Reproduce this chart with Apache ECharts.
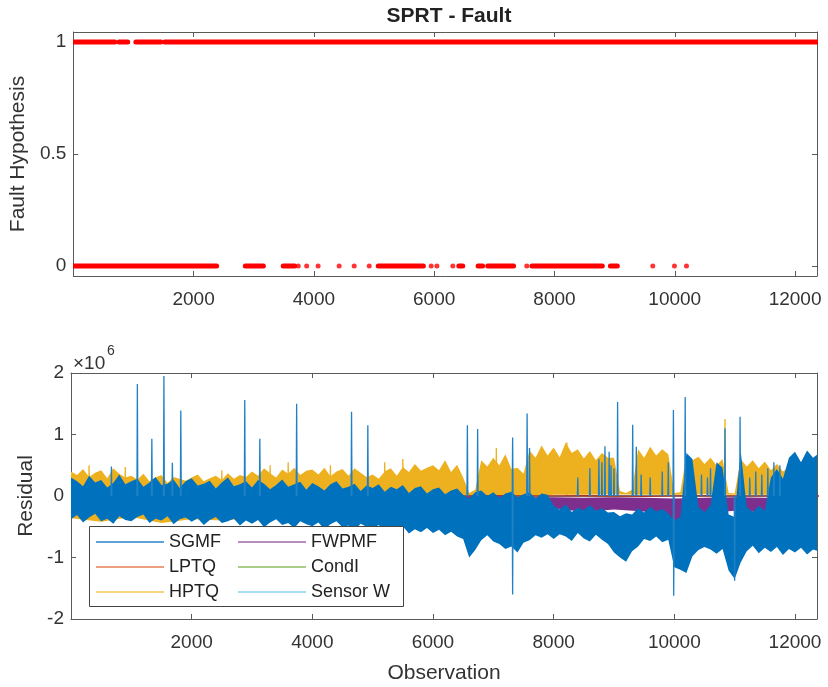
<!DOCTYPE html>
<html><head><meta charset="utf-8">
<script src="https://cdn.jsdelivr.net/npm/echarts@6/dist/echarts.min.js"></script>
<style>html,body{margin:0;padding:0;background:#fff}#c{width:828px;height:687px}</style>
</head><body><div id="c"></div><script>
// ---------------- DATA ----------------
var xTicks = [2000, 4000, 6000, 8000, 10000, 12000];
var faultTicks = [0, 0.5, 1];
var residTicks = [-2, -1, 0, 1, 2];
var nObs = 12365;

// SPRT fault hypothesis: contiguous runs of observations [start, end] and isolated observations
var faultOneRuns = [[0, 690], [760, 905], [1040, 1455], [1520, 12364]];
var faultZeroRuns = [[0, 2383], [2860, 3160], [3490, 3680], [5070, 5820], [6410, 6475], [6730, 6805], [6890, 7320], [7625, 8795], [8930, 9045]];
var faultZeroDots = [3740, 3880, 4070, 4420, 4670, 4920, 5950, 6045, 6310, 7540, 9635, 9995, 10195];

// Residual envelopes (x1e6), upper/lower edges of each noisy band
var envStep = 100;   // observations between envelope samples
var sgmfTop = [
 0.30,0.24,0.16,0.33,0.22,0.26,0.14,0.21,0.35,0.19,
 0.24,0.28,0.15,0.22,0.31,0.18,0.20,0.27,0.13,0.24,
 0.29,0.17,0.20,0.25,0.12,0.22,0.30,0.16,0.19,0.24,
 0.14,0.26,0.20,0.11,0.18,0.27,0.15,0.19,0.23,0.10,
 0.21,0.16,0.09,0.19,0.24,0.12,0.15,0.20,0.08,0.17,
 0.13,0.19,0.07,0.15,0.11,0.18,0.05,0.13,0.16,0.04,
 0.11,0.14,0.03,0.09,0.12,0.02,-0.04,0.06,0.09,0.00,
 0.06,-0.03,0.04,0.07,-0.02,0.03,0.06,-0.04,0.04,0.02,
 -0.16,-0.22,-0.14,-0.26,-0.19,-0.23,-0.15,-0.24,-0.20,-0.27,
 -0.26,-0.33,-0.28,-0.30,-0.20,-0.27,-0.18,-0.25,-0.21,-0.28,
 -0.40,-0.34,0.70,0.60,-0.18,-0.26,-0.15,0.55,0.46,-0.30,
 -0.34,0.74,-0.18,-0.26,-0.16,-0.24,0.30,0.44,0.28,0.62,
 0.72,0.55,0.74,0.62,0.70];
var sgmfBot = [
 -0.38,-0.31,-0.43,-0.35,-0.29,-0.41,-0.37,-0.45,-0.33,-0.39,
 -0.41,-0.34,-0.30,-0.44,-0.37,-0.40,-0.33,-0.46,-0.38,-0.35,
 -0.42,-0.36,-0.47,-0.39,-0.34,-0.44,-0.41,-0.37,-0.48,-0.40,
 -0.45,-0.39,-0.51,-0.43,-0.38,-0.47,-0.44,-0.52,-0.41,-0.46,
 -0.49,-0.43,-0.54,-0.46,-0.41,-0.51,-0.48,-0.56,-0.45,-0.50,
 -0.53,-0.47,-0.58,-0.50,-0.55,-0.49,-0.61,-0.54,-0.59,-0.52,
 -0.60,-0.55,-0.64,-0.58,-0.66,-0.70,-1.00,-0.88,-0.72,-0.64,
 -0.74,-0.78,-0.86,-0.82,-0.92,-0.76,-0.72,-0.64,-0.68,-0.62,
 -0.70,-0.62,-0.66,-0.73,-0.60,-0.69,-0.74,-0.63,-0.71,-0.78,
 -0.92,-1.00,-1.07,-0.90,-0.82,-0.70,-0.73,-0.66,-0.75,-0.71,
 -1.16,-1.20,-1.25,-0.98,-0.88,-0.83,-0.87,-0.94,-0.86,-1.21,
 -1.35,-1.08,-0.90,-0.81,-0.93,-0.84,-0.91,-0.83,-0.96,-0.86,
 -0.92,-0.84,-0.95,-0.87,-0.90];
var sgmfSpikes = [
 [670,0.48],[1100,1.82],[1340,0.93],[1540,1.95],[1680,0.54],[1820,1.39],[2880,1.56],[3130,0.93],
 [3740,1.50],[4650,1.37],[4920,1.15],[6570,1.15],[6740,1.09],[7320,0.95],[7560,1.34],[7600,0.78],
 [8850,0.81],[8920,0.72],[9060,1.53],[9310,1.16],[9370,0.80],[9985,1.40],[10180,1.61],[10840,1.10],[11090,1.29],
 [8400,0.30],[8600,0.45],[8750,0.60],[8800,0.55],[8950,0.50],[9000,0.45],[9450,0.35],[9600,0.30],
 [9800,0.40],[9900,0.55],[10450,0.35],[10550,0.30],[10600,0.45],[11250,0.30],[11350,0.40],
 [11450,0.35],[11550,0.45],[11650,0.55],[11750,0.50],
 [7320,-1.60],[9990,-1.62],[11000,-1.38]];
var hptqTop = [
 0.40,0.34,0.44,0.31,0.38,0.42,0.29,0.45,0.36,0.30,
 0.33,0.27,0.36,0.24,0.30,0.34,0.21,0.31,0.28,0.25,
 0.30,0.35,0.24,0.29,0.33,0.26,0.37,0.28,0.34,0.31,
 0.40,0.33,0.45,0.37,0.30,0.43,0.36,0.46,0.34,0.41,
 0.43,0.35,0.46,0.32,0.40,0.44,0.33,0.45,0.38,0.31,
 0.35,0.28,0.40,0.45,0.33,0.47,0.39,0.52,0.41,0.46,
 0.50,0.42,0.58,0.39,0.51,0.30,0.05,0.10,0.58,0.48,
 0.62,0.50,0.68,0.44,0.46,0.36,0.74,0.62,0.82,0.66,
 0.79,0.63,0.87,0.70,0.76,0.61,0.73,0.58,0.70,0.62,
 0.62,0.08,0.05,0.10,0.76,0.62,0.80,0.66,0.76,0.68,
 0.05,0.06,0.66,0.58,0.64,0.52,0.62,0.50,0.60,0.05,
 0.04,0.60,0.48,0.58,0.45,0.56,0.42,0.52,0.40,0.46,
 0.50,0.40,0.46,0.39,0.42];
var hptqSpikes = [[10840,1.25],[8220,0.87],[300,0.50],[900,0.47],[2500,0.42],[3300,0.50],[3600,0.55],[4300,0.50],[5200,0.55],[5500,0.60],[7050,0.78]];
var coarseStep = 500;
var hptqBot = [-0.36,-0.42,-0.34,-0.44,-0.38,-0.40,-0.36,-0.30,-0.28,-0.25,-0.22,-0.20,-0.15,-0.10,-0.05,-0.02,0.02,0.02,0.03,0.02,0.02,0.03,0.02,0.02,0.02,0.02];
var fwpmfTop = [0.04,0.05,0.03,0.05,0.04,0.05,0.06,0.08,0.06,0.04,0.03,0.02,0.00,-0.01,0.00,-0.02,-0.02,-0.03,-0.02,-0.03,-0.04,-0.03,-0.02,-0.03,-0.02,-0.02];
var fwpmfBot = [-0.12,-0.14,-0.12,-0.15,-0.13,-0.15,-0.16,-0.14,-0.16,-0.15,-0.18,-0.20,-0.20,-0.22,-0.18,-0.24,-0.20,-0.26,-0.22,-0.25,-0.50,-0.28,-0.24,-0.27,-0.22,-0.24];
var lptq = [0.01,-0.01,0.00,0.01,-0.01,0.00,0.01,0.00,-0.01,0.00,0.01,0.00,-0.01,0.00,0.005,0.00,0.00,0.005,0.00,-0.005,0.00,0.005,0.00,0.00,0.005,0.00];
var sparseStep = 1000;
var condI = [0.02,-0.02,0.01,-0.01,0.02,0.00,-0.02,0.01,0.00,-0.01,0.01,0.00,0.01];
var sensorW = [-0.02,0.01,-0.01,0.02,0.00,-0.02,0.01,0.00,-0.01,0.01,0.00,-0.01,0.00];

// ---------------- STYLE ----------------
var FF = '"Liberation Sans", Arial, Helvetica, sans-serif';
var AXC = '#5a5a5a', TXC = '#333333';
var C = {SGMF:'#0072BD', LPTQ:'#A8342A', HPTQ:'#EDB120', FWPMF:'#7E2F8E', CondI:'#77AC30', SensorW:'#4DBEEE'};
var LC = {SGMF:'#5EA2D6', LPTQ:'#EE9F82', HPTQ:'#F6D47C', FWPMF:'#B68DBE', CondI:'#A9CC86', SensorW:'#A7DCF4'};
function plain(v) { return String(v); }

function xAx(g, pos, labels, name) {
  return {type:'value', gridIndex:g, position:pos, min:0, max:nObs,
    name: name || '', nameLocation:'middle', nameGap:44,
    nameTextStyle:{fontSize:21, color:TXC, fontFamily:FF},
    axisLine:{show:true, onZero:false, lineStyle:{color:AXC, width:1}},
    axisTick:{show:true, inside:true, length:5, customValues:xTicks, lineStyle:{color:AXC}},
    axisLabel:{show:labels, customValues:xTicks, formatter:plain, color:TXC, fontSize:19, fontFamily:FF, margin:14},
    splitLine:{show:false}};
}
function yAx(g, pos, labels, min, max, ticks, name, gap) {
  return {type:'value', gridIndex:g, position:pos, min:min, max:max,
    name: name || '', nameLocation:'middle', nameGap:gap || 40, nameRotate:90,
    nameTextStyle:{fontSize:21, color:TXC, fontFamily:FF},
    axisLine:{show:true, onZero:false, lineStyle:{color:AXC, width:1}},
    axisTick:{show:true, inside:true, length:5, customValues:ticks, lineStyle:{color:AXC}},
    axisLabel:{show:labels, customValues:ticks, formatter:plain, color:TXC, fontSize:19, fontFamily:FF, margin:7},
    splitLine:{show:false}};
}
function band(name, color, top, topStep, bot, botStep, z) {
  return {type:'custom', name:name, xAxisIndex:2, yAxisIndex:2, z:z, clip:true, silent:true,
    itemStyle:{color:color}, data:[[0,0]],
    renderItem:function(params, api){
      var pts = [], i;
      for (i = 0; i < top.length; i++) pts.push(api.coord([i*topStep, top[i]]));
      for (i = bot.length-1; i >= 0; i--) pts.push(api.coord([i*botStep, bot[i]]));
      return {type:'polygon', shape:{points:pts}, style:{fill:color}};
    }};
}
function spikes(name, color, list, z) {
  return {type:'custom', name:name, xAxisIndex:2, yAxisIndex:2, z:z, clip:true, silent:true,
    itemStyle:{color:color}, data:list,
    renderItem:function(params, api){
      var o = api.value(0), v = api.value(1);
      var a = api.coord([o-7, 0]), b = api.coord([o, v]), c = api.coord([o+7, 0]);
      return {type:'polyline', shape:{points:[a,b,c]}, style:{stroke:color, fill:null, lineWidth:1.3}};
    }};
}
function lineS(name, color, vals, step, z, w) {
  return {type:'line', name:name, xAxisIndex:2, yAxisIndex:2, z:z, silent:true, showSymbol:false,
    data: vals.map(function(v,i){return [i*step, v];}),
    itemStyle:{color:color}, lineStyle:{color:color, width:w}};
}
function runs(list, y) {
  return {type:'custom', xAxisIndex:0, yAxisIndex:0, z:3, clip:true, silent:true,
    data: list.map(function(r){return [r[0], r[1], y];}),
    encode:{x:[0,1], y:2},
    renderItem:function(params, api){
      var a = api.coord([api.value(0), api.value(2)]), b = api.coord([api.value(1), api.value(2)]);
      return {type:'line', shape:{x1:a[0], y1:a[1], x2:b[0], y2:b[1]}, style:{stroke:'#FF0000', lineWidth:5, lineCap:'round'}};
    }};
}

var legendText = {fontSize:18, color:'#222', fontFamily:FF};
var option = {
  animation:false,
  backgroundColor:'#ffffff',
  title:{text:'SPRT - Fault', left:444, textAlign:'center', top:1,
    textStyle:{fontSize:21, fontWeight:'bold', color:'#222', fontFamily:FF}},
  grid:[
    {left:71, top:32, width:746, height:244},
    {left:71, top:373, width:746, height:246}
  ],
  xAxis:[xAx(0,'bottom',true), xAx(0,'top',false), xAx(1,'bottom',true,'Observation'), xAx(1,'top',false)],
  yAxis:[yAx(0,'left',true,-0.045,1.045,faultTicks,'Fault Hypothesis',39), yAx(0,'right',false,-0.045,1.045,faultTicks),
         yAx(1,'left',true,-2,2,residTicks,'Residual',31), yAx(1,'right',false,-2,2,residTicks)],
  legend:[
    {data:[{name:'SGMF',itemStyle:{color:LC.SGMF}},{name:'LPTQ',itemStyle:{color:LC.LPTQ}},{name:'HPTQ',itemStyle:{color:LC.HPTQ}}],
     orient:'vertical', left:96, top:533, padding:0, icon:'rect', itemWidth:68, itemHeight:2, itemGap:7, textStyle:legendText, selectedMode:false, z:10},
    {data:[{name:'FWPMF',itemStyle:{color:LC.FWPMF}},{name:'CondI',itemStyle:{color:LC.CondI}},{name:'Sensor W',itemStyle:{color:LC.SensorW}}],
     orient:'vertical', left:238, top:533, padding:0, icon:'rect', itemWidth:68, itemHeight:2, itemGap:7, textStyle:legendText, selectedMode:false, z:10}
  ],
  graphic:[
    {type:'rect', left:89, top:526, shape:{width:314, height:80}, style:{fill:'#fff', stroke:'#444', lineWidth:1}, z:8},
    {type:'text', left:73, top:354, style:{text:'\u00d710', fill:TXC, font:'19px ' + FF}, z:10},
    {type:'text', left:107, top:344, style:{text:'6', fill:TXC, font:'14px ' + FF}, z:10}
  ],
  series:[
    runs(faultOneRuns, 1),
    runs(faultZeroRuns, 0),
    {type:'scatter', xAxisIndex:0, yAxisIndex:0, z:3, silent:true, symbolSize:5,
      data: faultZeroDots.map(function(o){return [o, 0];}), itemStyle:{color:'#FF0000'}},
    lineS('CondI', C.CondI, condI, sparseStep, 1, 1),
    lineS('Sensor W', C.SensorW, sensorW, sparseStep, 1, 1),
    band('HPTQ', C.HPTQ, hptqTop, envStep, hptqBot, coarseStep, 2),
    spikes('HPTQ', C.HPTQ, hptqSpikes, 2),
    lineS('LPTQ', C.LPTQ, lptq, coarseStep, 3, 1.5),
    band('FWPMF', C.FWPMF, fwpmfTop, coarseStep, fwpmfBot, coarseStep, 4),
    band('SGMF', C.SGMF, sgmfTop, envStep, sgmfBot, envStep, 5),
    spikes('SGMF', '#1F80C6', sgmfSpikes, 6)
  ]
};
var chart = echarts.init(document.getElementById('c'), null, {renderer:'canvas'});
chart.setOption(option);
</script></body></html>
